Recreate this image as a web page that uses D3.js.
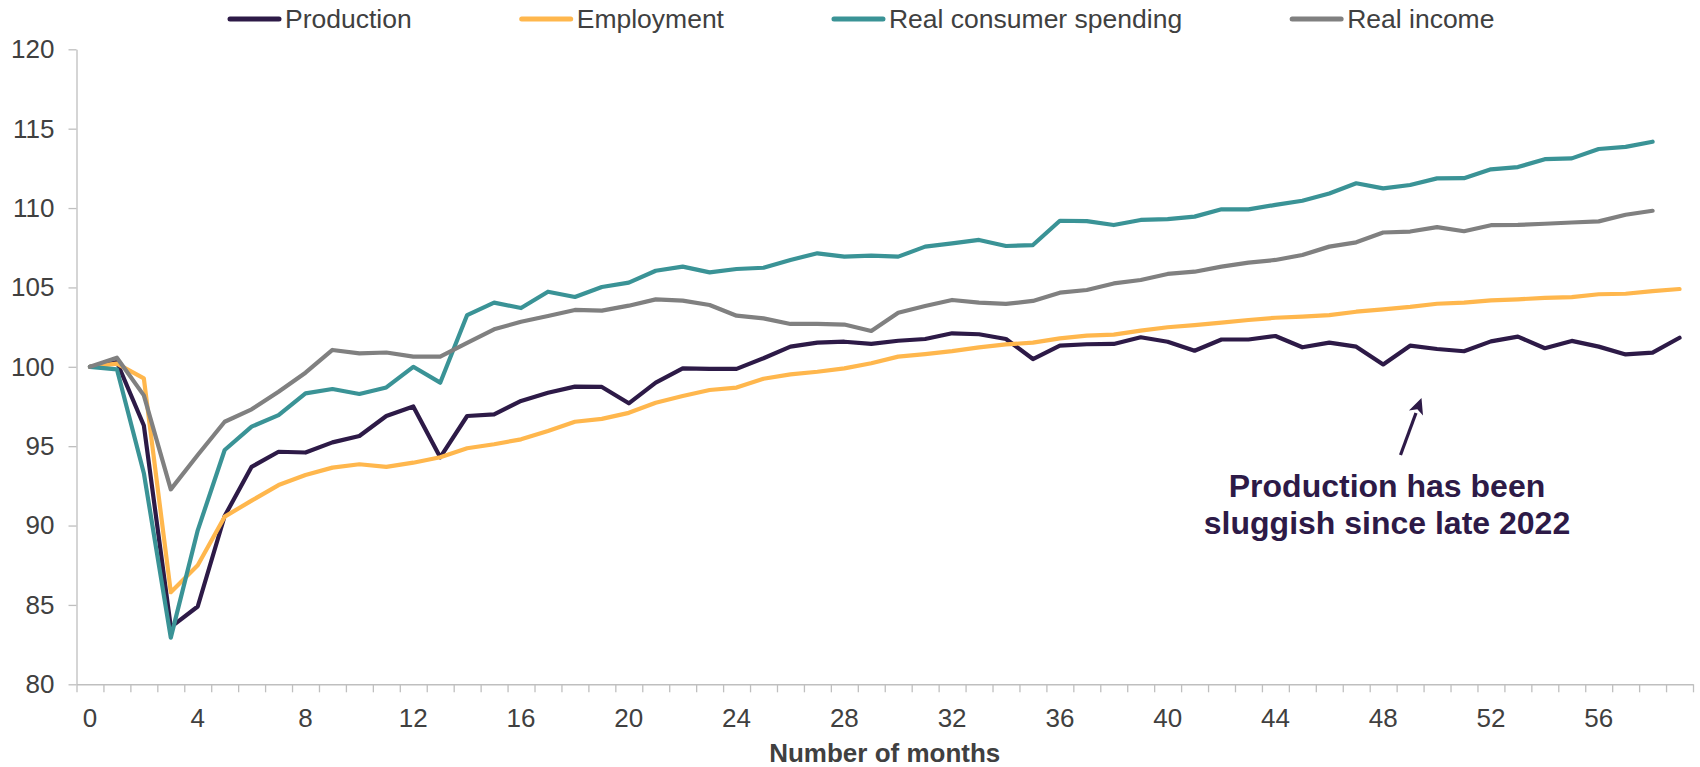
<!DOCTYPE html>
<html>
<head>
<meta charset="utf-8">
<script src="https://cdn.jsdelivr.net/npm/d3@7/dist/d3.min.js"></script>
<style>
  html, body { margin: 0; padding: 0; background: #ffffff; }
  svg { display: block; font-family: "Liberation Sans", Arial, sans-serif; }
</style>
</head>
<body>
<svg id="chart" width="1700" height="767"></svg>
<script>
// Index levels (month 0 = 100) for each indicator, by number of months
const production = [
  100, 100.3, 96.3, 83.6, 84.9, 90.6, 93.7, 94.65, 94.6, 95.24,
  95.64, 96.9, 97.5, 94.3, 96.9, 97.0, 97.85, 98.37, 98.75, 98.73,
  97.7, 99.0, 99.9, 99.87, 99.87, 100.54, 101.27, 101.52, 101.58, 101.44,
  101.64, 101.75, 102.11, 102.05, 101.75, 100.49, 101.33, 101.42, 101.44, 101.86,
  101.58, 101.01, 101.72, 101.72, 101.94, 101.23, 101.52, 101.27, 100.15, 101.33,
  101.12, 100.98, 101.6, 101.9, 101.17, 101.63, 101.27, 100.78, 100.89, 101.83
];
const employment = [
  100, 100.2, 99.27, 85.8, 87.5, 90.56, 91.57, 92.55, 93.18, 93.65,
  93.86, 93.7, 93.96, 94.3, 94.87, 95.12, 95.43, 95.96, 96.54, 96.72,
  97.1, 97.74, 98.16, 98.54, 98.69, 99.25, 99.52, 99.69, 99.9, 100.22,
  100.64, 100.8, 100.99, 101.22, 101.41, 101.52, 101.79, 101.96, 102.03, 102.28,
  102.49, 102.63, 102.78, 102.95, 103.09, 103.16, 103.26, 103.47, 103.62, 103.77,
  103.97, 104.04, 104.18, 104.25, 104.34, 104.39, 104.57, 104.6, 104.77, 104.9
];
const consumerSpending = [
  100, 99.84, 93.3, 82.94, 89.7, 94.76, 96.23, 96.96, 98.33, 98.6,
  98.29, 98.7, 100.0, 99.0, 103.26, 104.04, 103.7, 104.73, 104.4, 105.03,
  105.3, 106.05, 106.31, 105.95, 106.16, 106.24, 106.73, 107.15, 106.94, 107.0,
  106.94, 107.57, 107.78, 107.99, 107.61, 107.67, 109.2, 109.18, 108.93, 109.25,
  109.3, 109.46, 109.92, 109.92, 110.2, 110.46, 110.92, 111.56, 111.24, 111.45,
  111.87, 111.88, 112.44, 112.58, 113.08, 113.13, 113.72, 113.85, 114.18
];
const realIncome = [
  100, 100.57, 98.2, 92.28, 94.44, 96.54, 97.32, 98.43, 99.63, 101.06,
  100.85, 100.9, 100.64, 100.64, 101.5, 102.36, 102.84, 103.2, 103.58, 103.54,
  103.85, 104.25, 104.17, 103.89, 103.22, 103.05, 102.7, 102.7, 102.66, 102.26,
  103.41, 103.83, 104.21, 104.04, 103.96, 104.15, 104.67, 104.84, 105.25, 105.47,
  105.85, 105.99, 106.31, 106.56, 106.73, 107.04, 107.57, 107.84, 108.46, 108.52,
  108.8, 108.54, 108.92, 108.94, 109.01, 109.09, 109.16, 109.58, 109.83
];

const seriesNames = ["Production", "Employment", "Real consumer spending", "Real income"];
const seriesColors = ["#2d1a47", "#ffb74d", "#3a9396", "#808080"];
const seriesValues = [production, employment, consumerSpending, realIncome];

const monthCount = 60;
const xTickLabels = [0, 4, 8, 12, 16, 20, 24, 28, 32, 36, 40, 44, 48, 52, 56];
const yTicks = [80, 85, 90, 95, 100, 105, 110, 115, 120];

const svg = d3.select("#chart");
const plotLeft = 76.5, plotRight = 1693, plotTop = 49.3, plotBottom = 684.3;
const textColor = "#404040";
const axisColor = "#bfbfbf";

const months = d3.range(monthCount);
const x = d3.scaleBand().domain(months).range([plotLeft, plotRight]).padding(0);
const xEdge = d3.scaleLinear().domain([0, monthCount]).range([plotLeft, plotRight]);
const y = d3.scaleLinear().domain([80, 120]).range([plotBottom, plotTop]);
const xc = i => x(i) + x.bandwidth() / 2;

// Y axis
const yAxis = svg.append("g")
  .attr("transform", `translate(${plotLeft},0)`)
  .call(d3.axisLeft(y).tickValues(yTicks).tickSize(8).tickPadding(14).tickSizeOuter(0));
yAxis.select(".domain").attr("stroke", axisColor).attr("stroke-width", 1.3);
yAxis.selectAll(".tick line").attr("stroke", axisColor).attr("stroke-width", 1.3);
yAxis.selectAll(".tick text")
  .attr("fill", textColor).attr("font-size", 26)
  .attr("font-family", "Liberation Sans, Arial, sans-serif");

// X axis: a tick mark at every month boundary
const xTickMarks = svg.append("g")
  .attr("transform", `translate(0,${plotBottom})`)
  .call(d3.axisBottom(xEdge).tickValues(d3.range(monthCount + 1)).tickSize(8).tickFormat("").tickSizeOuter(0));
xTickMarks.select(".domain").attr("stroke", axisColor).attr("stroke-width", 1.6);
xTickMarks.selectAll(".tick line").attr("stroke", axisColor).attr("stroke-width", 1.3);

// X axis labels every 4 months, centred in each month
const xLabels = svg.append("g")
  .attr("transform", `translate(0,${plotBottom})`)
  .call(d3.axisBottom(x).tickValues(xTickLabels).tickSize(0).tickPadding(24));
xLabels.select(".domain").remove();
xLabels.selectAll(".tick text")
  .attr("fill", textColor).attr("font-size", 26)
  .attr("font-family", "Liberation Sans, Arial, sans-serif");

svg.append("text")
  .attr("x", (plotLeft + plotRight) / 2).attr("y", 762)
  .attr("text-anchor", "middle")
  .attr("font-size", 26).attr("font-weight", "bold")
  .attr("fill", textColor)
  .text("Number of months");

// Series lines
const line = d3.line().x((d, i) => xc(i)).y(d => y(d));
seriesValues.forEach((vals, k) => {
  svg.append("path")
    .datum(vals)
    .attr("fill", "none")
    .attr("stroke", seriesColors[k])
    .attr("stroke-width", 4.2)
    .attr("stroke-linejoin", "round")
    .attr("stroke-linecap", "round")
    .attr("d", line);
});

// Legend
const legend = svg.append("g").attr("class", "legend");
let lx = 228;
seriesNames.forEach((name, k) => {
  legend.append("line")
    .attr("x1", lx + 2).attr("x2", lx + 51)
    .attr("y1", 19).attr("y2", 19)
    .attr("stroke", seriesColors[k]).attr("stroke-width", 5)
    .attr("stroke-linecap", "round");
  const t = legend.append("text")
    .attr("x", lx + 57).attr("y", 28)
    .attr("font-size", 26.5).attr("fill", textColor)
    .text(name);
  lx += 57 + t.node().getComputedTextLength() + 108;
});

// Annotation
const noteColor = "#2d1a47";
const note = svg.append("g");
note.append("text")
  .attr("x", 1387).attr("y", 497)
  .attr("text-anchor", "middle")
  .attr("font-size", 32).attr("font-weight", "bold").attr("fill", noteColor)
  .text("Production has been");
note.append("text")
  .attr("x", 1387).attr("y", 533.5)
  .attr("text-anchor", "middle")
  .attr("font-size", 32).attr("font-weight", "bold").attr("fill", noteColor)
  .text("sluggish since late 2022");

const tail = [1400.5, 455], tip = [1421.5, 398];
const ang = Math.atan2(tip[1] - tail[1], tip[0] - tail[0]);
const headLen = 16, headHalf = 7.5;
const base = [tip[0] - headLen * Math.cos(ang), tip[1] - headLen * Math.sin(ang)];
note.append("line")
  .attr("x1", tail[0]).attr("y1", tail[1])
  .attr("x2", base[0]).attr("y2", base[1])
  .attr("stroke", noteColor).attr("stroke-width", 3.2);
note.append("path")
  .attr("fill", noteColor)
  .attr("d", d3.line()([
    tip,
    [base[0] + headHalf * Math.sin(ang), base[1] - headHalf * Math.cos(ang)],
    [base[0] + 4 * Math.cos(ang), base[1] + 4 * Math.sin(ang)],
    [base[0] - headHalf * Math.sin(ang), base[1] + headHalf * Math.cos(ang)]
  ]) + "Z");
</script>
</body>
</html>
